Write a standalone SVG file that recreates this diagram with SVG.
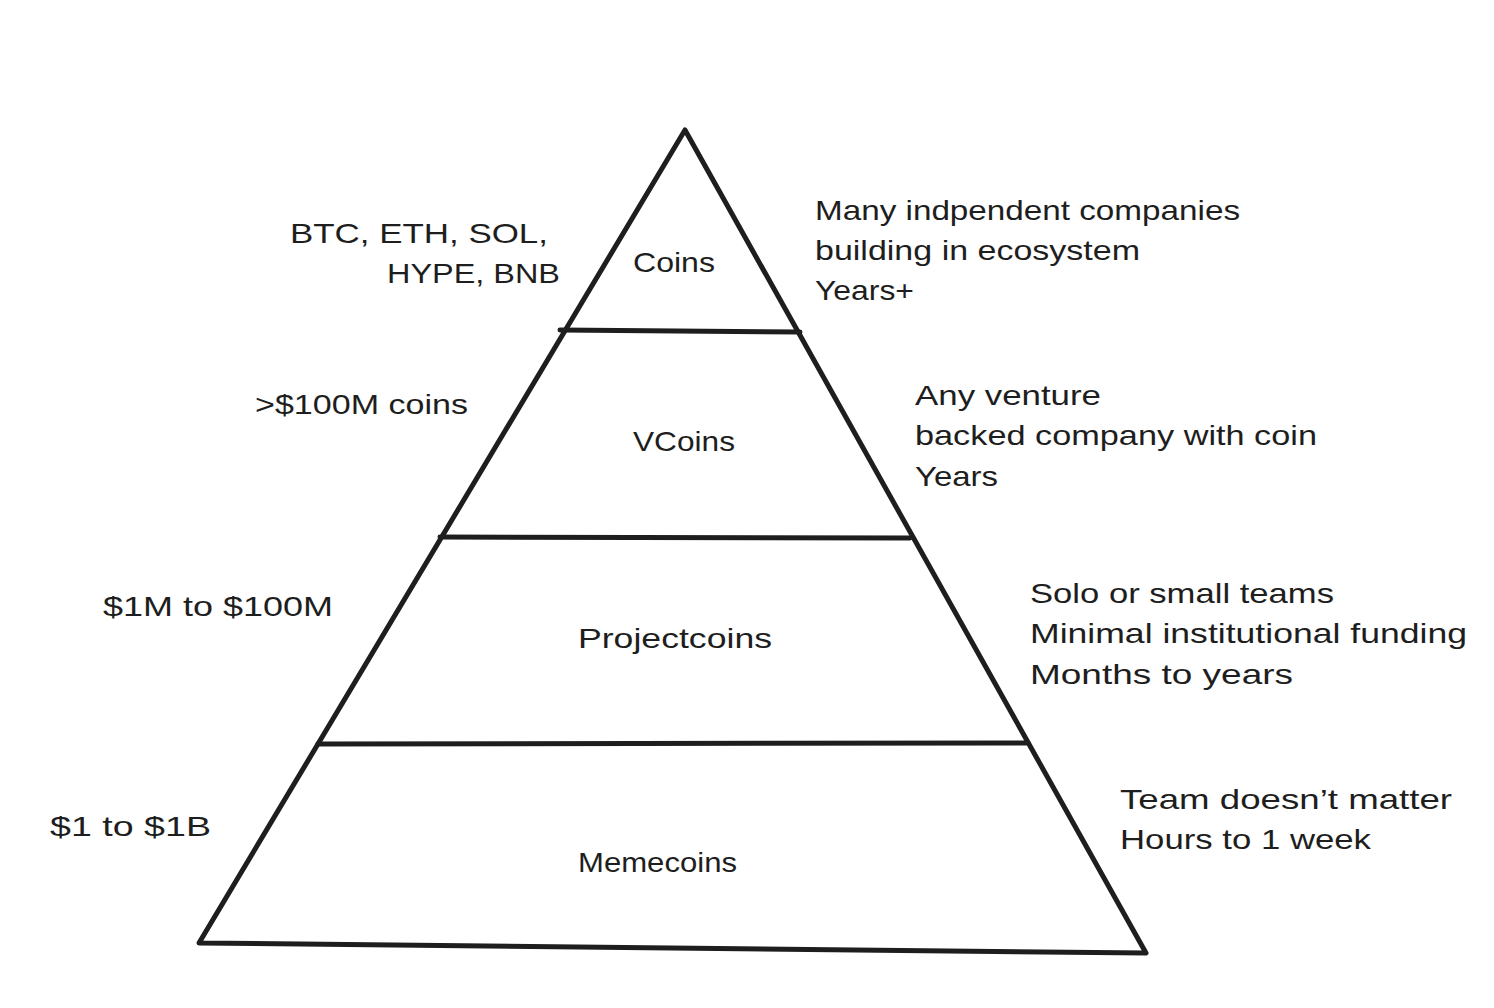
<svg xmlns="http://www.w3.org/2000/svg" width="1494" height="1008" viewBox="0 0 1494 1008">
<style>
.t{font-family:"Liberation Sans","DejaVu Sans",sans-serif;font-size:28px;fill:#1e1e1e}
.l{stroke:#1e1e1e;stroke-width:5;fill:none;stroke-linecap:round;stroke-linejoin:round}
</style>
<rect width="1494" height="1008" fill="#ffffff"/>
<g id="pyramid">
<path class="l" d="M685 130 L1146 953 L199 943 Z"/>
</g>
<g id="connectors">
<line class="l" x1="560" y1="330" x2="800" y2="332"/>
<line class="l" x1="440" y1="537" x2="910" y2="538"/>
<line class="l" x1="318" y1="744" x2="1028" y2="743"/>
</g>
<g id="tier-coins">
<text class="t" x="633" y="272" textLength="82" lengthAdjust="spacingAndGlyphs">Coins</text>
</g>
<g id="tier-vcoins">
<text class="t" x="633" y="451" textLength="102" lengthAdjust="spacingAndGlyphs">VCoins</text>
</g>
<g id="tier-projectcoins">
<text class="t" x="578" y="648" textLength="194" lengthAdjust="spacingAndGlyphs">Projectcoins</text>
</g>
<g id="tier-memecoins">
<text class="t" x="578" y="872" textLength="159" lengthAdjust="spacingAndGlyphs">Memecoins</text>
</g>
<g id="label-coins-left">
<text class="t" x="290" y="243" textLength="258" lengthAdjust="spacingAndGlyphs">BTC, ETH, SOL,</text>
<text class="t" x="387" y="283" textLength="173" lengthAdjust="spacingAndGlyphs">HYPE, BNB</text>
</g>
<g id="label-vcoins-left">
<text class="t" x="255" y="414" textLength="213" lengthAdjust="spacingAndGlyphs">&gt;$100M coins</text>
</g>
<g id="label-projectcoins-left">
<text class="t" x="103" y="616" textLength="230" lengthAdjust="spacingAndGlyphs">$1M to $100M</text>
</g>
<g id="label-memecoins-left">
<text class="t" x="50" y="836" textLength="161" lengthAdjust="spacingAndGlyphs">$1 to $1B</text>
</g>
<g id="label-coins-right">
<text class="t" x="815" y="220" textLength="425" lengthAdjust="spacingAndGlyphs">Many indpendent companies</text>
<text class="t" x="815" y="260" textLength="325" lengthAdjust="spacingAndGlyphs">building in ecosystem</text>
<text class="t" x="815" y="300" textLength="99" lengthAdjust="spacingAndGlyphs">Years+</text>
</g>
<g id="label-vcoins-right">
<text class="t" x="915" y="405" textLength="186" lengthAdjust="spacingAndGlyphs">Any venture</text>
<text class="t" x="915" y="445" textLength="402" lengthAdjust="spacingAndGlyphs">backed company with coin</text>
<text class="t" x="915" y="486" textLength="83" lengthAdjust="spacingAndGlyphs">Years</text>
</g>
<g id="label-projectcoins-right">
<text class="t" x="1030" y="603" textLength="304" lengthAdjust="spacingAndGlyphs">Solo or small teams</text>
<text class="t" x="1030" y="643" textLength="437" lengthAdjust="spacingAndGlyphs">Minimal institutional funding</text>
<text class="t" x="1030" y="684" textLength="263" lengthAdjust="spacingAndGlyphs">Months to years</text>
</g>
<g id="label-memecoins-right">
<text class="t" x="1120" y="809" textLength="332" lengthAdjust="spacingAndGlyphs">Team doesn’t matter</text>
<text class="t" x="1120" y="849" textLength="251" lengthAdjust="spacingAndGlyphs">Hours to 1 week</text>
</g>
</svg>
